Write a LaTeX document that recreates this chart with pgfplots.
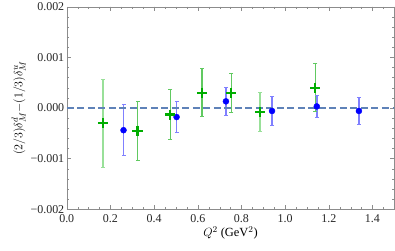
\documentclass[border=0pt]{standalone}
\usepackage{pgfplots}
\pgfplotsset{compat=1.18}
\usepackage{fontspec}
\setmainfont{Liberation Serif}
\definecolor{ptblue}{rgb}{0,0,1}
\definecolor{barblue}{rgb}{0.50,0.50,1}
\definecolor{ptgreen}{rgb}{0,0.68,0}
\definecolor{bargreen}{rgb}{0.38,0.79,0.38}
\definecolor{lightgreen}{rgb}{0.60,0.88,0.60}
\definecolor{dashblue}{rgb}{0.37,0.51,0.72}
\definecolor{framegray}{rgb}{0.55,0.55,0.55}

\begin{document}
\begin{tikzpicture}
\begin{axis}[
  scale only axis,
  width=327.3bp, height=202.3bp,
  xmin=0, xmax=1.5, ymin=-0.002, ymax=0.002,
  axis line style={framegray},
  tick style={framegray},
  tick align=inside,
  major tick length=4bp, minor tick length=2.2bp,
  xtick={0,0.2,0.4,0.6,0.8,1.0,1.2,1.4},
  xticklabels={0.0,0.2,0.4,0.6,0.8,1.0,1.2,1.4},
  minor xtick={0.05,0.1,...,1.5},
  ytick={-0.002,-0.001,0,0.001,0.002},
  yticklabels={−0.002,−0.001,0.000,0.001,0.002},
  minor ytick={-0.0018,-0.0016,-0.0014,-0.0012,-0.0008,-0.0006,-0.0004,-0.0002,0.0002,0.0004,0.0006,0.0008,0.0012,0.0014,0.0016,0.0018},
  scaled y ticks=false,
  ticklabel style={font=\fontsize{12}{13}\selectfont, text=black!85},
  xticklabel style={yshift=-2bp},
  yticklabel style={xshift=1bp},
  xlabel={$Q^2$ (GeV$^2$)},
  ylabel={$(2/3)\delta^{d}_{M}{-}(1/3)\delta^{u}_{M}$},
  label style={font=\fontsize{12.5}{13}\selectfont},
  xlabel style={yshift=3bp},
  ylabel style={yshift=-2bp},
  clip=false,
  unbounded coords=jump,
]
% error bars (lower, upper ends)
\addplot[barblue, line width=1.5pt, mark=-, mark size=2bp, mark options={line width=1pt}, forget plot] coordinates {
 (0.260,-0.00094) (0.260,0.00006) (0.260,nan)
 (0.503,-0.00049) (0.503,0.00013) (0.503,nan)
 (0.729,-0.00014) (0.729,0.00040) (0.729,nan)
 (0.940,-0.00035) (0.940,0.00023) (0.940,nan)
 (1.145,-0.00019) (1.145,0.00025) (1.145,nan)
 (1.338,-0.00032) (1.338,0.00020)
};
\addplot[bargreen, line width=1.5pt, mark=-, mark size=2bp, mark options={line width=1pt}, forget plot] coordinates {
 (0.324,-0.00103) (0.324,0.00013) (0.324,nan)
 (0.474,-0.00062) (0.474,0.00036) (0.474,nan)
 (0.619,-0.00017) (0.619,0.00077) (0.619,nan)
 (0.754,-0.00009) (0.754,0.00069) (0.754,nan)
 (1.138,-0.00008) (1.138,0.00088)
};
\addplot[lightgreen, line width=1.6pt, mark=-, mark size=2bp, mark options={line width=1pt}, forget plot] coordinates {
 (0.165,-0.00117) (0.165,0.00057) (0.165,nan)
 (0.885,-0.00046) (0.885,0.00030)
};
% zero line
\addplot[dashblue, line width=1.4pt, dash pattern=on 7bp off 3.5bp, forget plot]
  coordinates {(0,0) (1.5,0)};
% markers
\addplot[only marks, mark=*, mark size=3bp, color=ptblue] coordinates {
 (0.260,-0.00044) (0.503,-0.00018) (0.729,0.00013) (0.940,-0.00006) (1.145,0.00003) (1.338,-0.00006)
};
\addplot[only marks, mark=+, mark size=5bp, color=ptgreen, mark options={line width=2.2pt}] coordinates {
 (0.165,-0.00030) (0.324,-0.00045) (0.474,-0.00013) (0.619,0.00030) (0.754,0.00030) (0.885,-0.00008) (1.138,0.00040)
};
\end{axis}
\pgfresetboundingbox
\path (current axis.south west) ++(-66.7bp,-41bp) coordinate (bbA);
\path (current axis.north east) ++(0.7bp,6.7bp) coordinate (bbB);
\path[use as bounding box] (bbA) rectangle (bbB);
\end{tikzpicture}
\end{document}
